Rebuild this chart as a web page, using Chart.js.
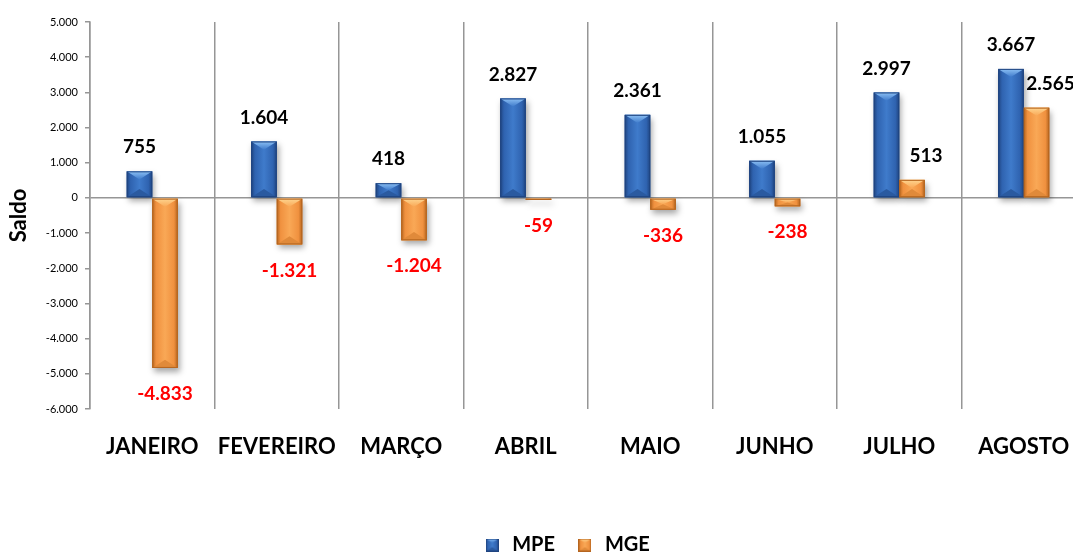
<!DOCTYPE html>
<html>
<head>
<meta charset="utf-8">
<script src="https://cdn.jsdelivr.net/npm/chart.js@4"></script>
<style>
  html, body { margin: 0; padding: 0; background: #fff; overflow: hidden; }
</style>
</head>
<body>
<canvas id="myChart" width="1132" height="552"></canvas>
<script>
// Months on the x-axis
var months = ['JANEIRO', 'FEVEREIRO', 'MARÇO', 'ABRIL', 'MAIO', 'JUNHO', 'JULHO', 'AGOSTO'];

// Saldo per month for each series
var mpe = [755, 1604, 418, 2827, 2361, 1055, 2997, 3667];
var mge = [-4833, -1321, -1204, -59, -336, -238, 513, 2565];

// Y-axis range
var yMin = -6000;
var yMax = 5000;
var yStep = 1000;

// Bar colours (body, edges, light top face, darker bottom face)
var bluePal = { edge: '#1f4480', body: '#2f63b0', mid: '#3f7bcb', light: '#8cc0f4', dark: '#2a5aa0' };
var orangePal = { edge: '#b5651f', body: '#f0913f', mid: '#f9a856', light: '#fed590', dark: '#e08a3a' };

// Portuguese number format: 5000 -> 5.000
function fmt(v) {
    var s = Math.abs(v).toString().replace(/\B(?=(\d{3})+(?!\d))/g, '.');
    return (v < 0 ? '-' : '') + s;
}

// Draw one bar with the bevelled look
function drawBevel(ctx, l, t, r, b, c) {
    var w = r - l, h = b - t;
    if (w <= 0 || h <= 0) return;
    var cx = (l + r) / 2;
    var d = Math.min(w * 0.32, h / 2);
    var g = ctx.createLinearGradient(l, 0, r, 0);
    g.addColorStop(0, c.edge);
    g.addColorStop(0.15, c.body);
    g.addColorStop(0.5, c.mid);
    g.addColorStop(0.85, c.body);
    g.addColorStop(1, c.edge);
    ctx.fillStyle = g;
    ctx.fillRect(l, t, w, h);
    // light top face
    ctx.beginPath();
    ctx.moveTo(l, t); ctx.lineTo(r, t); ctx.lineTo(cx, t + d); ctx.closePath();
    var gt = ctx.createLinearGradient(0, t, 0, t + d);
    gt.addColorStop(0, c.light);
    gt.addColorStop(1, c.mid);
    ctx.fillStyle = gt;
    ctx.fill();
    // darker bottom face
    ctx.beginPath();
    ctx.moveTo(l, b); ctx.lineTo(r, b); ctx.lineTo(cx, b - d); ctx.closePath();
    ctx.fillStyle = c.dark;
    ctx.fill();
    ctx.strokeStyle = c.edge;
    ctx.lineWidth = 1;
    ctx.strokeRect(l + 0.5, t + 0.5, Math.max(w - 1, 0), Math.max(h - 1, 0));
}

// Small legend icons in the same style
function makeIcon(pal) {
    var cv = document.createElement('canvas');
    cv.width = 13; cv.height = 13;
    drawBevel(cv.getContext('2d'), 0, 0, 13, 13, pal);
    return cv;
}
var icons = [makeIcon(bluePal), makeIcon(orangePal)];
var pals = [bluePal, orangePal];

// Shadow under the bars, then the bevel and the value labels on top
const bevelPlugin = {
    id: 'bevelPlugin',
    beforeDatasetsDraw(chart) {
        const ctx = chart.ctx;
        ctx.save();
        ctx.shadowColor = 'rgba(0, 0, 0, 0.35)';
        ctx.shadowBlur = 6;
        ctx.shadowOffsetX = 2;
        ctx.shadowOffsetY = 4;
    },
    afterDatasetsDraw(chart) {
        const ctx = chart.ctx;
        ctx.restore();
        chart.data.datasets.forEach(function(ds, di) {
            const meta = chart.getDatasetMeta(di);
            meta.data.forEach(function(bar, i) {
                const p = bar.getProps(['x', 'y', 'base', 'width']);
                const l = p.x - p.width / 2, r = p.x + p.width / 2;
                const t = Math.min(p.y, p.base), b = Math.max(p.y, p.base);
                ctx.save();
                drawBevel(ctx, l, t, r, b, pals[di]);
                ctx.restore();

                // value label
                const v = ds.data[i];
                ctx.save();
                ctx.font = 'bold 19px Lato';
                ctx.textAlign = 'center';
                ctx.textBaseline = 'middle';
                if (v >= 0) {
                    ctx.fillStyle = '#000';
                    ctx.fillText(fmt(v), p.x + (di === 1 ? 14 : 0), p.y - 24);
                } else {
                    ctx.fillStyle = '#ff0000';
                    ctx.fillText(fmt(v), p.x, p.y + 26);
                }
                ctx.restore();
            });
        });
    }
};

var ctx = document.getElementById('myChart').getContext('2d');

var myChart = new Chart(ctx, {
    type: 'bar',
    data: {
        labels: months,
        datasets: [{
            label: 'MPE',
            data: mpe,
            backgroundColor: bluePal.body,
            categoryPercentage: 0.41,
            barPercentage: 1.0
        }, {
            label: 'MGE',
            data: mge,
            backgroundColor: orangePal.body,
            categoryPercentage: 0.41,
            barPercentage: 1.0
        }]
    },
    options: {
        responsive: false,
        animation: false,
        layout: {
            padding: { top: 22, right: 0, left: 0, bottom: -13 }
        },
        scales: {
            x: {
                grid: {
                    offset: true,
                    drawTicks: false,
                    color: '#969696',
                    lineWidth: 1.5
                },
                border: { display: false },
                ticks: {
                    color: '#000',
                    padding: 25,
                    font: { family: 'Lato', size: 22, weight: 'bold' }
                },
                afterFit: function(scale) { scale.height = 106; }
            },
            y: {
                min: yMin,
                max: yMax,
                grid: {
                    color: function(c) { return c.tick && c.tick.value === 0 ? '#969696' : 'rgba(0,0,0,0)'; },
                    lineWidth: 1.5,
                    tickColor: '#969696',
                    tickLength: 5
                },
                border: { display: true, color: '#969696', width: 1.5 },
                ticks: {
                    stepSize: yStep,
                    color: '#000',
                    padding: 7,
                    font: { family: 'Lato', size: 11 },
                    callback: function(v) { return fmt(v); }
                },
                title: {
                    display: true,
                    text: 'Saldo',
                    color: '#000',
                    padding: { top: 6, bottom: 0 },
                    font: { family: 'Lato', size: 22, weight: 'bold' }
                },
                afterFit: function(scale) { scale.width = 90; }
            },
            // empty right-hand margin so the legend centres on the full width
            yRight: {
                position: 'right',
                grid: { display: false },
                border: { display: false },
                ticks: { display: false },
                afterFit: function(scale) { scale.width = 46; }
            }
        },
        plugins: {
            legend: {
                position: 'bottom',
                labels: {
                    usePointStyle: true,
                    color: '#000',
                    padding: 20,
                    font: { family: 'Lato', size: 20, weight: 'bold' },
                    generateLabels: function(chart) {
                        var items = Chart.defaults.plugins.legend.labels.generateLabels(chart);
                        items.forEach(function(it, i) { it.pointStyle = icons[i]; });
                        return items;
                    }
                }
            },
            tooltip: { enabled: false }
        }
    },
    plugins: [bevelPlugin]
});
</script>
</body>
</html>
